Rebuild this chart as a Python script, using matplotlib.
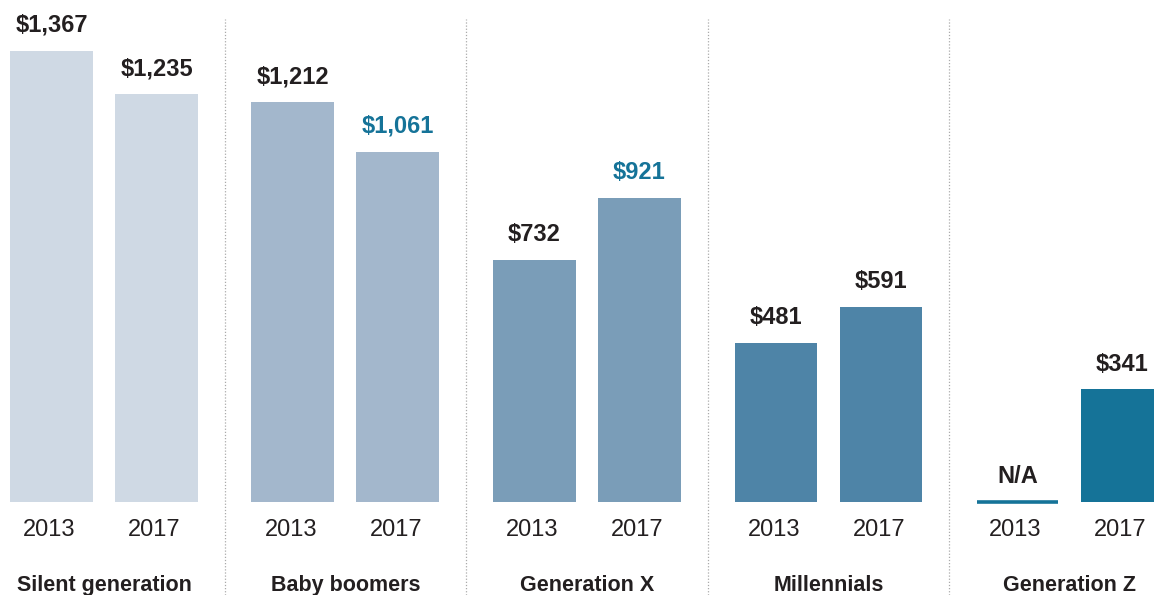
import matplotlib.pyplot as plt

generations = ["Silent generation", "Baby boomers", "Generation X", "Millennials", "Generation Z"]
years = ["2013", "2017"]
spend_2013 = [1367, 1212, 732, 481, None]
spend_2017 = [1235, 1061, 921, 591, 341]
highlight_2017 = [False, True, True, False, False]

bar_colors = ["#cfd9e4", "#a3b7cc", "#7a9db8", "#4e84a7", "#157398"]
dark = "#231f20"
blue = "#157398"

plt.rcParams["font.family"] = ["Liberation Sans", "DejaVu Sans"]

fig = plt.figure(figsize=(11.54, 5.95), dpi=100)
ax = fig.add_axes([0, 0, 1, 1])

group_pitch = 2.3
width = 0.79

for i, gen in enumerate(generations):
    color = bar_colors[i]
    for j, vals in enumerate([spend_2013, spend_2017]):
        x = i * group_pitch + j
        v = vals[i]
        if v is None:
            # no data: thin line on the baseline
            ax.plot([x - width / 2 + 0.01, x + width / 2 - 0.01], [0, 0],
                    color=color, lw=2.6, solid_capstyle="butt")
            ax.annotate("N/A", (x, 0), xytext=(0, 10), textcoords="offset points",
                        ha="center", va="bottom", fontsize=17, fontweight="bold",
                        color=dark)
        else:
            ax.bar(x, v, width=width, color=color, linewidth=0)
            lab_color = blue if (j == 1 and highlight_2017[i]) else dark
            ax.annotate(f"${v:,}", (x, v), xytext=(0, 10), textcoords="offset points",
                        ha="center", va="bottom", fontsize=17, fontweight="bold",
                        color=lab_color)
        ax.annotate(years[j], (x - 0.02, 0), xytext=(0, -20.5), textcoords="offset points",
                    ha="center", va="center", fontsize=17, color=dark)
    ax.annotate(gen, (i * group_pitch + 0.5, 0), xytext=(0, -60),
                textcoords="offset points", ha="center", va="center",
                fontsize=15.5, fontweight="bold", color=dark)
    if i > 0:
        ax.axvline(i * group_pitch - (group_pitch - 1) / 2, ymin=0, ymax=0.968,
                   color="#aaaaaa", lw=0.9, ls=(0, (1, 1.5)))

ax.set_xlim(-0.49, 10.5)
ax.set_ylim(-282, 1521)
ax.axis("off")

fig.savefig("out.png", dpi=100)
